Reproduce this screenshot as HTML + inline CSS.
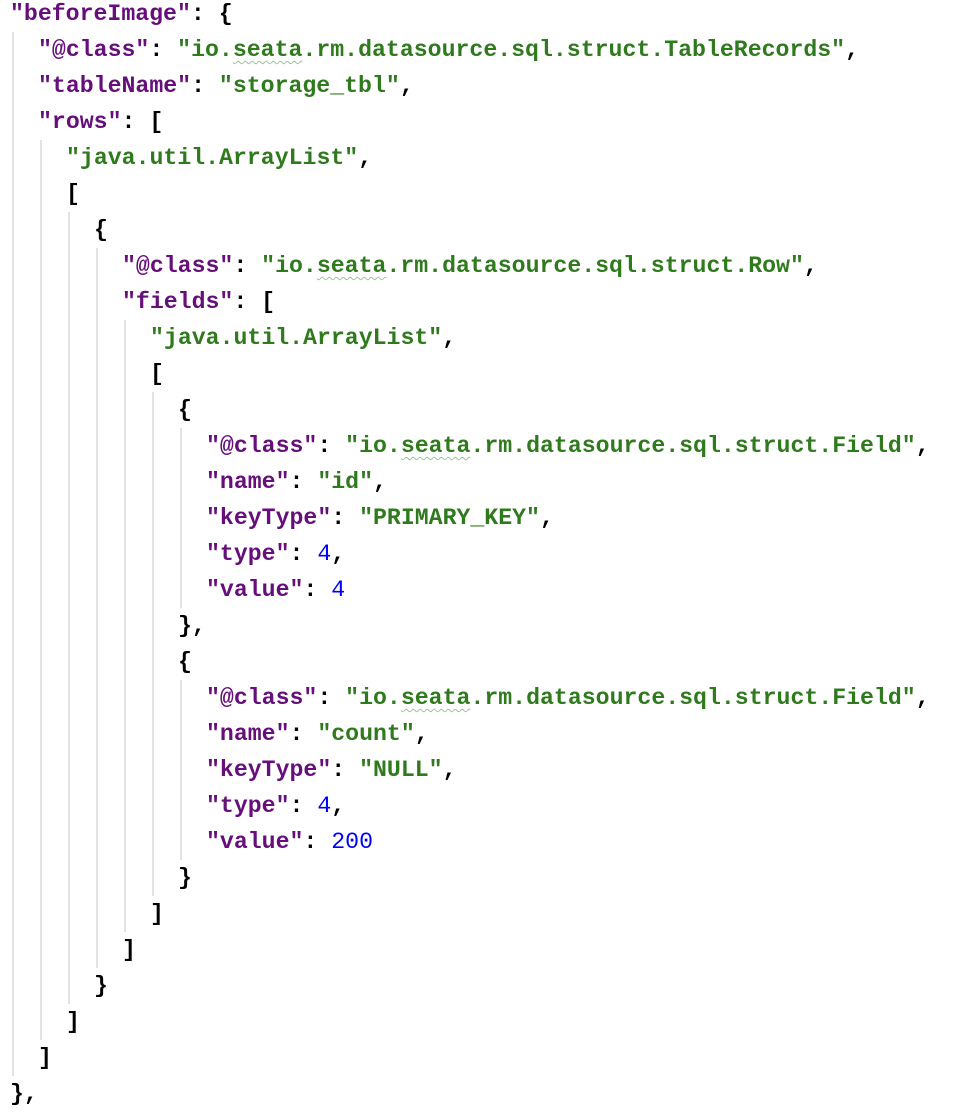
<!DOCTYPE html>
<html><head><meta charset="utf-8"><style>
html,body{margin:0;padding:0;background:#fff;width:968px;height:1118px;overflow:hidden;position:relative}
.l{position:absolute;left:0;height:36px;line-height:36px;white-space:pre;font-family:"Liberation Mono",monospace;font-size:23.2px;color:#000;font-weight:bold}
.k{color:#660e7a;font-weight:bold}
.s{color:#2f7a1d;font-weight:bold}
.n{color:#0000ff;font-weight:normal}
.w{text-decoration:underline wavy #9cc79c;text-decoration-thickness:1px;text-underline-offset:4px}
.g{position:absolute;width:2px;background:#e3e3e3}
</style></head><body>
<div class="g" style="left:12px;top:32px;height:1044px"></div>
<div class="g" style="left:40px;top:140px;height:900px"></div>
<div class="g" style="left:68px;top:212px;height:792px"></div>
<div class="g" style="left:96px;top:248px;height:720px"></div>
<div class="g" style="left:124px;top:320px;height:612px"></div>
<div class="g" style="left:152px;top:392px;height:504px"></div>
<div class="g" style="left:180px;top:428px;height:180px"></div>
<div class="g" style="left:180px;top:680px;height:180px"></div>

<div class="l" style="top:-4px;left:10px"><span class="k">"beforeImage"</span>: {</div>
<div class="l" style="top:32px;left:38px"><span class="k">"@class"</span>: <span class="s">"io.<span class="w">seata</span>.rm.datasource.sql.struct.TableRecords"</span>,</div>
<div class="l" style="top:68px;left:38px"><span class="k">"tableName"</span>: <span class="s">"storage_tbl"</span>,</div>
<div class="l" style="top:104px;left:38px"><span class="k">"rows"</span>: [</div>
<div class="l" style="top:140px;left:66px"><span class="s">"java.util.ArrayList"</span>,</div>
<div class="l" style="top:176px;left:66px">[</div>
<div class="l" style="top:212px;left:94px">{</div>
<div class="l" style="top:248px;left:122px"><span class="k">"@class"</span>: <span class="s">"io.<span class="w">seata</span>.rm.datasource.sql.struct.Row"</span>,</div>
<div class="l" style="top:284px;left:122px"><span class="k">"fields"</span>: [</div>
<div class="l" style="top:320px;left:150px"><span class="s">"java.util.ArrayList"</span>,</div>
<div class="l" style="top:356px;left:150px">[</div>
<div class="l" style="top:392px;left:178px">{</div>
<div class="l" style="top:428px;left:206px"><span class="k">"@class"</span>: <span class="s">"io.<span class="w">seata</span>.rm.datasource.sql.struct.Field"</span>,</div>
<div class="l" style="top:464px;left:206px"><span class="k">"name"</span>: <span class="s">"id"</span>,</div>
<div class="l" style="top:500px;left:206px"><span class="k">"keyType"</span>: <span class="s">"PRIMARY_KEY"</span>,</div>
<div class="l" style="top:536px;left:206px"><span class="k">"type"</span>: <span class="n">4</span>,</div>
<div class="l" style="top:572px;left:206px"><span class="k">"value"</span>: <span class="n">4</span></div>
<div class="l" style="top:608px;left:178px">},</div>
<div class="l" style="top:644px;left:178px">{</div>
<div class="l" style="top:680px;left:206px"><span class="k">"@class"</span>: <span class="s">"io.<span class="w">seata</span>.rm.datasource.sql.struct.Field"</span>,</div>
<div class="l" style="top:716px;left:206px"><span class="k">"name"</span>: <span class="s">"count"</span>,</div>
<div class="l" style="top:752px;left:206px"><span class="k">"keyType"</span>: <span class="s">"NULL"</span>,</div>
<div class="l" style="top:788px;left:206px"><span class="k">"type"</span>: <span class="n">4</span>,</div>
<div class="l" style="top:824px;left:206px"><span class="k">"value"</span>: <span class="n">200</span></div>
<div class="l" style="top:860px;left:178px">}</div>
<div class="l" style="top:896px;left:150px">]</div>
<div class="l" style="top:932px;left:122px">]</div>
<div class="l" style="top:968px;left:94px">}</div>
<div class="l" style="top:1004px;left:66px">]</div>
<div class="l" style="top:1040px;left:38px">]</div>
<div class="l" style="top:1076px;left:10px">},</div>
</body></html>
